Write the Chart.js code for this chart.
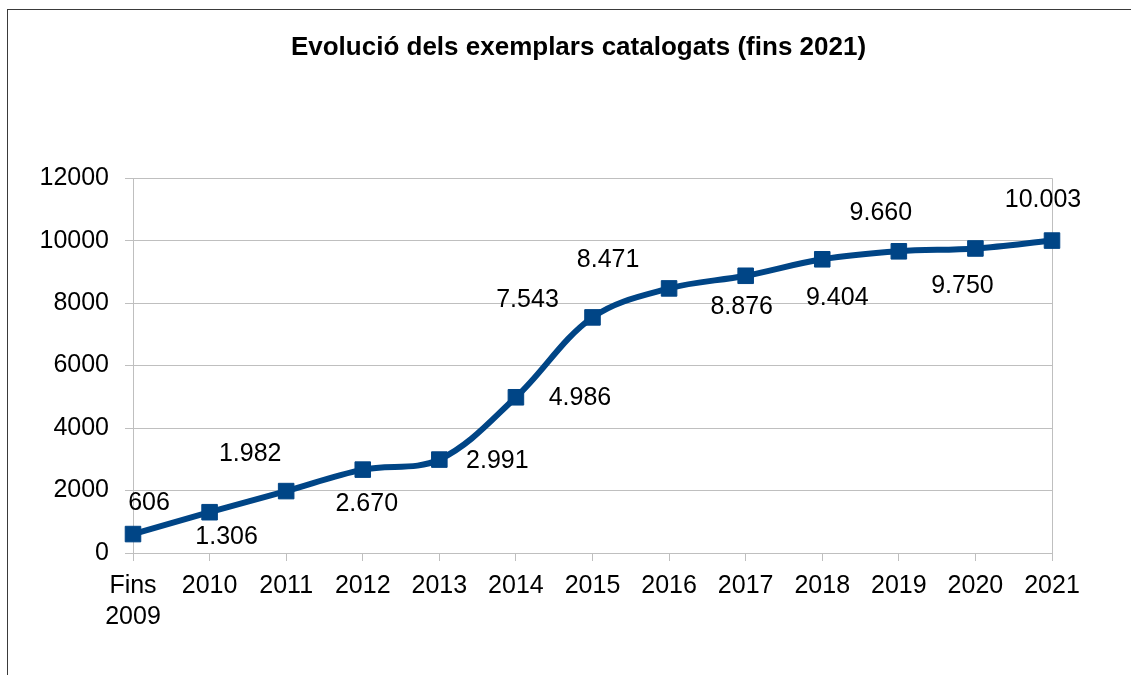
<!DOCTYPE html>
<html>
<head>
<meta charset="utf-8">
<script src="https://cdn.jsdelivr.net/npm/chart.js@4"></script>
<style>
  html, body { margin: 0; padding: 0; background: #fff; }
  #wrap { position: relative; width: 1131px; height: 675px; overflow: hidden; }
  #frame {
    position: absolute; left: 7px; top: 9px; right: -2px; bottom: -2px;
    border-top: 1px solid #3a3a3a; border-left: 1px solid #3a3a3a;
  }
  canvas { position: absolute; left: 0; top: 0; }
</style>
</head>
<body>
<div id="wrap">
  <div id="frame"></div>
  <canvas id="catalegChart" width="1131" height="675"></canvas>
</div>
<script>
//Dades - exemplars catalogats per any
var anys = [["Fins", "2009"], "2010", "2011", "2012", "2013", "2014", "2015", "2016", "2017", "2018", "2019", "2020", "2021"];
var exemplars = [606, 1306, 1982, 2670, 2991, 4986, 7543, 8471, 8876, 9404, 9660, 9750, 10003];
var yTicks = [0, 2000, 4000, 6000, 8000, 10000, 12000];

// on es col·loca cada etiqueta respecte del seu punt (dx, dy)
var etiquetaOffset = [
  [16, -31], [17, 25], [-36, -37], [4, 35], [58, 2], [64, 1], [-65, -17],
  [-61, -28], [-4, 31], [15, 39], [-18, -38], [-13, 38], [-9, -40]
];

var blau = "#004586";
var font = "'Liberation Sans', Arial, sans-serif";

function ambPunts(n) {
  // 1.306, 10.003 ...
  return String(n).replace(/\B(?=(\d{3})+(?!\d))/g, ".");
}

var etiquetes = {
  id: "etiquetes",
  afterDatasetsDraw: function(chart) {
    var ctx = chart.ctx;
    var meta = chart.getDatasetMeta(0);
    ctx.save();
    ctx.font = "25px " + font;
    ctx.fillStyle = "#000";
    ctx.textAlign = "center";
    ctx.textBaseline = "middle";
    meta.data.forEach(function(pt, i) {
      var off = etiquetaOffset[i];
      ctx.fillText(ambPunts(exemplars[i]), pt.x + off[0], pt.y + off[1]);
    });
    ctx.restore();
  }
};

// línia de la dreta de l'àrea del gràfic
var vora = {
  id: "vora",
  beforeDatasetsDraw: function(chart) {
    var a = chart.chartArea, ctx = chart.ctx;
    ctx.save();
    ctx.strokeStyle = "#bfbfbf";
    ctx.lineWidth = 1;
    ctx.beginPath();
    ctx.moveTo(Math.round(a.right) + 0.5, a.top);
    ctx.lineTo(Math.round(a.right) + 0.5, a.bottom + 8);
    ctx.stroke();
    ctx.restore();
  }
};

new Chart("catalegChart", {
  type: "line",
  data: {
    labels: anys,
    datasets: [{
      data: exemplars,
      borderColor: blau,
      backgroundColor: blau,
      borderWidth: 6,
      tension: 0.35,
      pointStyle: "rect",
      pointRadius: 11,
      pointBorderWidth: 1,
      pointBorderColor: blau,
      pointBackgroundColor: blau,
      clip: false
    }]
  },
  options: {
    responsive: false,
    animation: false,
    layout: { padding: { left: 26, right: 0, top: 0, bottom: 0 } },
    plugins: {
      legend: { display: false },
      tooltip: { enabled: false },
      title: {
        display: true,
        text: "Evolució dels exemplars catalogats (fins 2021)",
        color: "#000",
        font: { family: font, size: 26, weight: "bold", lineHeight: 1.2 },
        padding: { top: 32, bottom: 115 }
      }
    },
    scales: {
      x: {
        offset: false,
        grid: { drawOnChartArea: false, drawTicks: true, tickLength: 8, color: "#bfbfbf" },
        border: { color: "#bfbfbf" },
        ticks: {
          color: "#000",
          font: { family: font, size: 25, lineHeight: 1.25 },
          padding: 9,
          maxRotation: 0,
          autoSkip: false
        },
        afterFit: function(scale) { scale.height = 122; }
      },
      y: {
        min: 0,
        max: 12000,
        afterBuildTicks: function(scale) {
          scale.ticks = yTicks.map(function(v) { return { value: v }; });
        },
        grid: { color: "#bfbfbf", tickLength: 8 },
        border: { color: "#bfbfbf" },
        ticks: {
          color: "#000",
          font: { family: font, size: 25 },
          padding: 16,
          callback: function(v) { return String(v); }
        },
        afterFit: function(scale) { scale.width = 107; }
      },
      // marge buit a la dreta
      dreta: {
        position: "right",
        grid: { display: false },
        border: { display: false },
        ticks: { display: false },
        afterFit: function(scale) { scale.width = 79; }
      }
    }
  },
  plugins: [vora, etiquetes]
});
</script>
</body>
</html>
